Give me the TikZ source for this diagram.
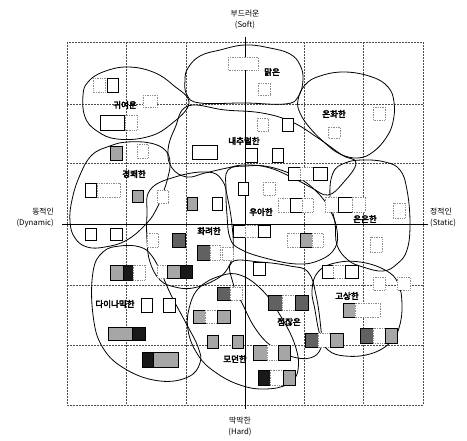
\documentclass[tikz,border=0pt]{standalone}
\usepackage{fontspec}
\newfontfamily\kr{Noto Sans CJK KR}
\newfontfamily\krb[FakeBold=4]{Noto Sans CJK KR}
\begin{document}
\begin{tikzpicture}[x=1pt,y=-1pt,
  gridline/.style={black!70,dash pattern=on 2pt off 1pt,line width=0.6pt},
  axisline/.style={black,line width=0.9pt},
  blob/.style={black,line width=0.8pt},
  sqE/.style={draw=black!45,densely dotted,line width=0.7pt,fill=white},
  sqO/.style={draw=black,line width=0.9pt,fill=white},
  sqG/.style={draw=black,line width=0.8pt,fill=black!35},
  sqD/.style={draw=black,line width=0.8pt,fill=black!62},
  sqK/.style={draw=black,line width=0.8pt,fill=black!90},
  axlab/.style={font=\kr\fontsize{7.8}{9}\selectfont,inner sep=0pt,align=center},
  grp/.style={font=\krb\fontsize{8.5}{9.5}\selectfont,inner sep=0.5pt}]
\useasboundingbox (0,0) rectangle (467,441);
\fill[white] (0,0) rectangle (467,441);
% grid
\draw[gridline] (67,42) rectangle (423,405);
\foreach \gx in {126,186,304,363} \draw[gridline] (\gx,42) -- (\gx,405);
\foreach \gy in {104,163,285,345} \draw[gridline] (67,\gy) -- (423,\gy);
% axes
\coordinate (top) at (245,37);
\coordinate (bot) at (245,409);
\coordinate (lft) at (62,224);
\coordinate (rgt) at (428,224);
\draw[axisline] (top) -- (bot);
\draw[axisline] (lft) -- (rgt);
% regions
\draw[blob] plot[smooth cycle,tension=0.7] coordinates {(188,68) (200,56) (220,50) (245,45) (270,48) (290,54) (300,65) (303,80) (298,97) (285,104) (245,103) (200,103) (187,95) (185,80)}; % malgeun
\draw[blob] plot[smooth cycle,tension=0.7] coordinates {(83,95) (88,82) (103,72) (127,67) (153,72) (173,85) (189,103) (170,125) (147,137) (117,139) (97,131) (85,117)}; % gwiyeoun
\draw[blob] plot[smooth cycle,tension=0.7] coordinates {(298,100) (305,85) (320,76) (345,72) (372,77) (388,87) (394,102) (393,122) (386,138) (373,152) (358,158) (340,154) (325,143) (310,128) (300,113)}; % onhwa
\draw[blob] plot[smooth cycle,tension=0.7] coordinates {(188,106) (225,110) (262,113) (292,122) (318,138) (342,155) (356,163) (343,183) (328,195) (312,188) (297,180) (270,168) (245,165) (227,168) (205,173) (187,177) (172,168) (168,150) (175,128)}; % natural
\draw[blob] plot[smooth cycle,tension=0.7] coordinates {(92,155) (110,146) (127,142) (150,143) (165,150) (170,162) (168,177) (163,193) (157,208) (147,223) (127,240) (105,247) (87,247) (75,238) (70,222) (72,200) (80,175)}; % gyeongkwae
\draw[blob] plot[smooth cycle,tension=0.7] coordinates {(228,170) (247,166) (270,167) (297,177) (317,192) (330,210) (337,230) (335,248) (320,260) (297,264) (265,258) (240,249) (230,238) (227,215) (226,190)}; % uaha
\draw[blob] plot[smooth cycle,tension=0.7] coordinates {(150,190) (175,177) (207,172) (222,180) (228,200) (232,225) (233,250) (228,268) (215,280) (193,288) (175,287) (160,280) (150,262) (147,240) (147,215)}; % hwaryeo
\draw[blob] plot[smooth cycle,tension=0.7] coordinates {(333,173) (345,163) (363,160) (385,162) (400,170) (407,190) (410,223) (407,250) (397,264) (383,271) (363,267) (348,260) (337,245) (335,223) (330,197)}; % euneun
\draw[blob] plot[smooth cycle,tension=0.7] coordinates {(93,272) (103,252) (120,246) (140,247) (152,256) (162,275) (172,297) (187,325) (198,347) (200,363) (188,377) (160,381) (127,370) (103,348) (93,315)}; % dynamic
\draw[blob] plot[smooth cycle,tension=0.7] coordinates {(190,305) (200,287) (220,276) (240,275) (262,290) (280,315) (295,345) (298,370) (288,384) (265,389) (240,385) (215,372) (198,355) (188,330)}; % modern
\draw[blob] plot[smooth cycle,tension=0.7] coordinates {(232,262) (260,262) (290,266) (308,272) (316,295) (321,330) (321,348) (310,358) (290,356) (270,345) (255,328) (243,305) (233,283)}; % jeomjan
\draw[blob] plot[smooth cycle,tension=0.7] coordinates {(312,290) (318,272) (335,263) (360,262) (385,270) (398,283) (402,305) (399,328) (390,343) (370,354) (345,356) (328,350) (320,335) (315,310)}; % gosang
% squares
\foreach \a/\b/\c/\d/\s in {
 93/78/105/92/sqE, 107/78/118/92/sqO, 143/95/157/107/sqE, 100/115/124/130/sqO, 125/115/137/130/sqE,
 110/146/122/160/sqG, 137/144/148/158/sqE, 228/57/258/70/sqE, 258/83/270/95/sqE,
 192/145/217/159/sqO, 245/148/257/162/sqO, 257/118/268/131/sqE, 282/118/293/131/sqO, 272/148/283/162/sqO,
 328/127/340/138/sqE, 373/107/385/120/sqE,
 288/167/300/180/sqO, 300/167/313/180/sqE, 313/167/327/180/sqO,
 238/182/248/195/sqO, 263/182/275/195/sqE,
 85/183/96/197/sqO, 97/183/120/197/sqE, 132/190/143/202/sqG, 157/190/168/203/sqE,
 85/228/96/240/sqO, 110/228/122/240/sqO,
 187/197/197/210/sqG, 212/197/222/210/sqO, 147/233/158/247/sqE, 172/233/185/247/sqD,
 197/245/210/260/sqD, 210/245/220/260/sqE, 222/247/233/260/sqE,
 110/265/123/280/sqG, 123/265/133/280/sqK, 133/265/145/280/sqE,
 157/265/167/278/sqE, 167/265/180/278/sqG, 180/265/192/278/sqK,
 217/287/230/300/sqD, 230/287/242/300/sqE,
 278/198/290/212/sqE, 290/198/302/212/sqO, 302/198/313/212/sqE,
 233/225/245/237/sqO, 245/225/258/237/sqE, 258/225/270/237/sqO,
 287/233/300/247/sqE, 300/233/312/247/sqG, 312/233/323/247/sqE,
 325/197/338/212/sqE, 338/197/352/212/sqO, 352/197/365/212/sqE,
 253/262/265/275/sqO,
 322/265/333/278/sqO, 333/265/345/278/sqE, 345/265/358/278/sqO,
 393/203/405/218/sqE, 370/237/382/252/sqE, 373/277/385/290/sqE, 397/277/410/290/sqE,
 141/298/152/312/sqO, 163/298/175/312/sqO,
 108/327/132/340/sqG, 132/327/145/340/sqK,
 142/352/153/367/sqK, 153/352/178/367/sqG,
 193/310/205/323/sqG, 205/310/217/323/sqE, 217/310/230/323/sqG,
 207/335/218/348/sqG, 232/335/243/348/sqG,
 253/345/267/360/sqG, 267/345/278/360/sqE, 278/345/290/360/sqG,
 258/370/270/385/sqK, 270/370/283/385/sqE, 283/370/295/385/sqG,
 268/295/282/310/sqD, 282/295/295/310/sqE, 295/295/308/310/sqD,
 305/333/318/347/sqD, 318/333/330/347/sqE, 330/333/343/347/sqG,
 343/303/355/317/sqG, 355/303/380/317/sqE,
 360/328/373/343/sqD, 373/328/385/343/sqE, 385/328/397/343/sqG}
 \draw[\s] (\a,\b) rectangle (\c,\d);
% axis labels
\node[axlab] (soft) at (245,20) {부드러운\\[2pt](Soft)};
\node[axlab] (hard) at (240,427) {딱딱한\\[2pt](Hard)};
\node[axlab,anchor=east,align=right] (dyn) at (54,218) {동적인\\[2pt](Dynamic)};
\node[axlab,anchor=west,align=left] (sta) at (430,218) {정적인\\[2pt](Static)};
% group labels
\node[grp] (g1) at (272,72) {맑은};
\node[grp] (g2) at (125,105) {귀여운};
\node[grp] (g3) at (334,114) {온화한};
\node[grp] (g4) at (244,141) {내추럴한};
\node[grp] (g5) at (134,174) {경쾌한};
\node[grp] (g6) at (261,212) {우아한};
\node[grp] (g7) at (209,231) {화려한};
\node[grp] (g8) at (365,219) {은은한};
\node[grp] (g9) at (115,304) {다이나믹한};
\node[grp] (g10) at (347,296) {고상한};
\node[grp] (g11) at (289,322) {점잖은};
\node[grp] (g12) at (235,359) {모던한};
\end{tikzpicture}
\end{document}
